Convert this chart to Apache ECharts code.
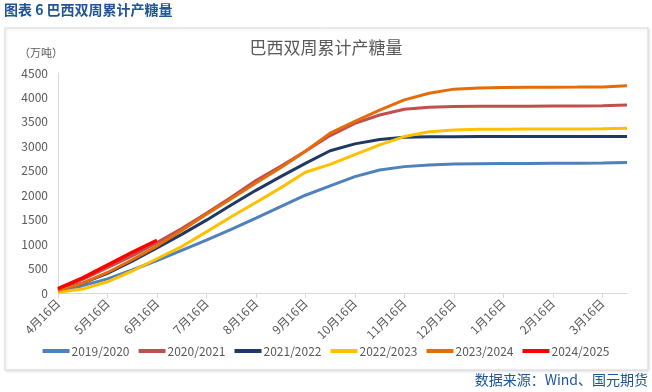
<!DOCTYPE html>
<html><head><meta charset="utf-8">
<script src="https://cdn.jsdelivr.net/npm/echarts@6/dist/echarts.min.js"></script>
<style>html,body{margin:0;padding:0;background:#fff}#c{width:652px;height:392px}</style>
</head><body><div id="c"></div>
<script>
const categories = ["4月16日","5月1日","5月16日","6月1日","6月16日","7月1日","7月16日","8月1日","8月16日","9月1日","9月16日","10月1日","10月16日","11月1日","11月16日","12月1日","12月16日","1月1日","1月16日","2月1日","2月16日","3月1日","3月16日","4月1日"];
const seriesNames = ["2019/2020","2020/2021","2021/2022","2022/2023","2023/2024","2024/2025"];
const s2019 = [40,150,290,470,665,870,1080,1300,1530,1765,2000,2190,2380,2515,2585,2620,2640,2645,2648,2650,2652,2655,2658,2668];
const s2020 = [80,280,520,760,1030,1320,1630,1960,2300,2590,2900,3220,3470,3640,3757,3800,3815,3818,3820,3822,3824,3826,3830,3845];
const s2021 = [60,200,400,650,920,1200,1490,1800,2100,2380,2650,2910,3050,3140,3185,3195,3198,3199,3200,3200,3200,3200,3201,3202];
const s2022 = [15,80,230,450,700,950,1250,1560,1850,2150,2470,2630,2830,3030,3200,3300,3335,3347,3350,3352,3353,3355,3358,3370];
const s2023 = [50,200,420,680,960,1280,1610,1930,2250,2560,2900,3270,3510,3740,3950,4085,4170,4195,4205,4208,4210,4212,4215,4240];
const s2024 = [90,310,570,830,1080];
const colors = ["#4F81BD","#C0504D","#1F3864","#FFC000","#E46C0A","#FF0000"];
const yTicks = {min:0,max:4500,interval:500};

const chart = echarts.init(document.getElementById('c'));
const datas = [s2019,s2020,s2021,s2022,s2023,s2024];
chart.setOption({
  animation:false,
  color:colors,
  textStyle:{fontFamily:"'Noto Sans CJK SC', sans-serif"},
  graphic:[
    {type:'rect',shape:{x:5,y:28,width:643,height:342},style:{fill:'#fff',stroke:'#D9D9D9',lineWidth:1,shadowBlur:3,shadowColor:'rgba(0,0,0,0.12)',shadowOffsetX:1,shadowOffsetY:1},z:-10},
    {type:'text',left:4,top:3,style:{text:'图表 6 巴西双周累计产糖量',fill:'#1F5597',font:"bold 14px 'Noto Sans CJK SC'"}},
    {type:'text',left:19,top:47,style:{text:'（万吨）',fill:'#595959',font:"11px 'Noto Sans CJK SC'"}},
    {type:'text',right:4,top:373,style:{text:'数据来源：Wind、国元期货',fill:'#1F5597',font:"14px 'Noto Sans CJK SC'"}}
  ],
  title:{text:'巴西双周累计产糖量',left:'center',top:34,textStyle:{fontSize:17,fontWeight:'normal',color:'#595959',fontFamily:"'Noto Sans CJK SC'"}},
  grid:{left:58,right:25,top:73,bottom:99,containLabel:false},
  legend:{bottom:30,left:'center',itemWidth:27,itemHeight:4,itemGap:9,icon:'rect',textStyle:{fontSize:12,color:'#595959',padding:[0,0,0,-3]},data:seriesNames},
  xAxis:{type:'category',data:categories,boundaryGap:false,
    axisLine:{lineStyle:{color:'#D9D9D9'}},
    axisTick:{interval:1,length:5,lineStyle:{color:'#D9D9D9'}},
    axisLabel:{interval:1,rotate:45,fontSize:12,color:'#595959',margin:8}},
  yAxis:{type:'value',min:yTicks.min,max:yTicks.max,interval:yTicks.interval,
    axisLine:{show:true,lineStyle:{color:'#D9D9D9'}},axisTick:{show:false},
    splitLine:{show:false},axisLabel:{fontSize:12,color:'#595959',margin:10,formatter:v=>String(v)}},
  series:datas.map((d,i)=>({name:seriesNames[i],type:'line',data:d,symbol:'none',smooth:false,
    lineStyle:{width:i===5?3.5:3,color:colors[i]},z:2+i}))
});
</script></body></html>
